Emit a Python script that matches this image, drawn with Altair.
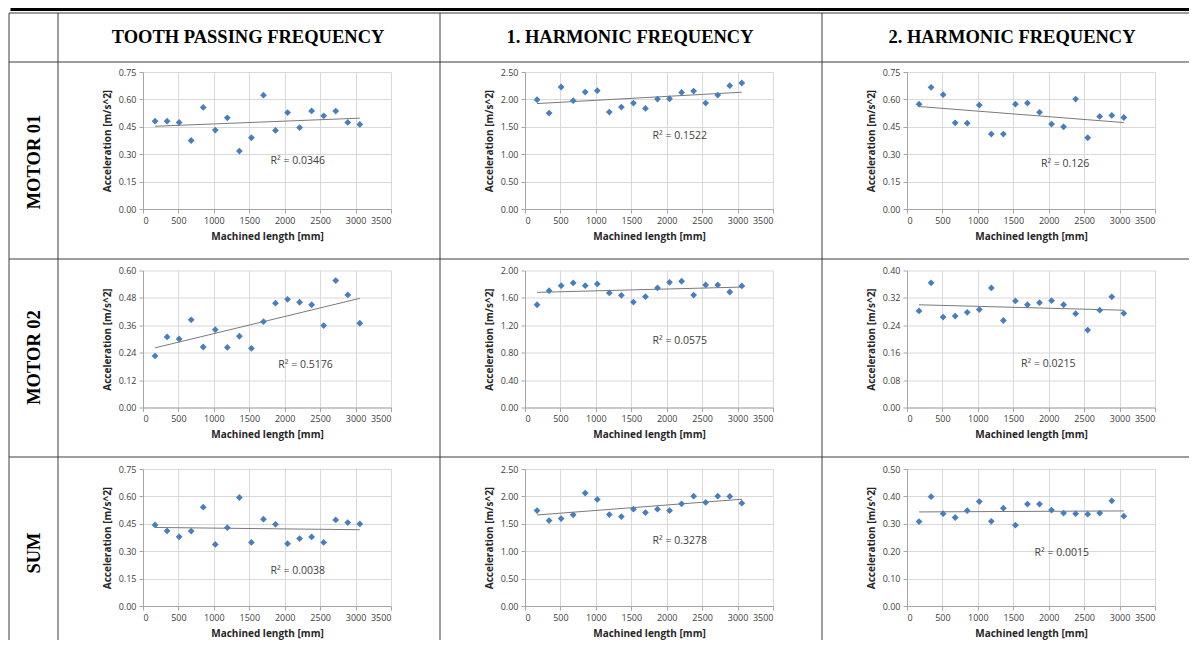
import altair as alt
import pandas as pd

# ---------------- data ----------------
X_MM = [170, 340, 510, 680, 850, 1020, 1190, 1360, 1530, 1700,
        1870, 2040, 2210, 2380, 2550, 2720, 2890, 3060]
X_TICKS = [0, 500, 1000, 1500, 2000, 2500, 3000, 3500]

COLUMN_TITLES = ["TOOTH PASSING FREQUENCY", "1. HARMONIC FREQUENCY", "2. HARMONIC FREQUENCY"]
ROW_TITLES = ["MOTOR 01", "MOTOR 02", "SUM"]

M01_TPF = [0.481, 0.481, 0.474, 0.375, 0.556, 0.432, 0.499, 0.317, 0.390, 0.623,
           0.430, 0.528, 0.446, 0.537, 0.510, 0.536, 0.474, 0.463]
M01_H1 = [1.994, 1.750, 2.226, 1.976, 2.134, 2.159, 1.768, 1.860, 1.933, 1.835,
          2.006, 2.012, 2.128, 2.152, 1.933, 2.079, 2.250, 2.299]
M01_H2 = [0.574, 0.666, 0.626, 0.472, 0.470, 0.569, 0.410, 0.410, 0.574, 0.580,
          0.529, 0.465, 0.450, 0.602, 0.390, 0.507, 0.512, 0.501]
M02_TPF = [0.226, 0.309, 0.300, 0.384, 0.265, 0.341, 0.263, 0.312, 0.259, 0.376,
           0.457, 0.474, 0.461, 0.450, 0.359, 0.556, 0.493, 0.369]
M02_H1 = [1.500, 1.706, 1.779, 1.819, 1.779, 1.804, 1.672, 1.637, 1.539, 1.618,
          1.745, 1.828, 1.843, 1.642, 1.789, 1.789, 1.686, 1.775]
M02_H2 = [0.282, 0.364, 0.264, 0.267, 0.278, 0.286, 0.349, 0.254, 0.311, 0.300,
          0.306, 0.312, 0.300, 0.274, 0.226, 0.284, 0.323, 0.275]
SUM_TPF = [0.444, 0.411, 0.379, 0.410, 0.541, 0.337, 0.429, 0.594, 0.348, 0.475,
           0.447, 0.341, 0.369, 0.378, 0.348, 0.471, 0.457, 0.449]
SUM_H1 = [1.742, 1.559, 1.595, 1.663, 2.060, 1.944, 1.669, 1.632, 1.767, 1.705,
          1.767, 1.742, 1.864, 2.005, 1.889, 2.005, 1.999, 1.877]
SUM_H2 = [0.308, 0.399, 0.337, 0.323, 0.348, 0.381, 0.309, 0.357, 0.295, 0.372,
          0.372, 0.350, 0.339, 0.337, 0.335, 0.339, 0.384, 0.328]

SERIES = [[M01_TPF, M01_H1, M01_H2],
          [M02_TPF, M02_H1, M02_H2],
          [SUM_TPF, SUM_H1, SUM_H2]]

Y_TICKS = [
    [[0.0, 0.15, 0.30, 0.45, 0.60, 0.75], [0.0, 0.5, 1.0, 1.5, 2.0, 2.5], [0.0, 0.15, 0.30, 0.45, 0.60, 0.75]],
    [[0.0, 0.12, 0.24, 0.36, 0.48, 0.60], [0.0, 0.4, 0.8, 1.2, 1.6, 2.0], [0.0, 0.08, 0.16, 0.24, 0.32, 0.40]],
    [[0.0, 0.15, 0.30, 0.45, 0.60, 0.75], [0.0, 0.5, 1.0, 1.5, 2.0, 2.5], [0.0, 0.1, 0.2, 0.3, 0.4, 0.5]],
]

R2_TEXT = [["R² = 0.0346", "R² = 0.1522", "R² = 0.126"],
           ["R² = 0.5176", "R² = 0.0575", "R² = 0.0215"],
           ["R² = 0.0038", "R² = 0.3278", "R² = 0.0015"]]
R2_X = [[1800, 1800, 1890], [1910, 1800, 1610], [1800, 1800, 1800]]
R2_Y = [[0.264, 1.34, 0.245], [0.184, 0.966, 0.127], [0.192, 1.186, 0.195]]

# ---------------- layout / style ----------------
PW, PH = 248, 137
COL_GAP, ROW_GAP = 134, 61.5
ROW_TOP = [-10, -11.5, -12]
ROW_BOTTOM = [187, 186.5, 171]
TABLE_TOP = -59
CELL_LEFT = -85
TABLE_LEFT = -134
RIGHT_END = 1046
HEADER_X = 105
HEADER_Y = -35
ROW_LABEL_X = -109.5
ROW_LABEL_Y = [90, 87, 84]

LINE = "#3c3c3c"
BLUE = "#4A7EBB"
SERIF = "Liberation Serif"
SANS = "Open Sans"

ONE = pd.DataFrame({"k": [0]})


def rule(x, y, x2=None, y2=None, width=1.0, color=LINE):
    enc = dict(x=alt.value(x), y=alt.value(y))
    if x2 is not None:
        enc["x2"] = alt.value(x2)
    if y2 is not None:
        enc["y2"] = alt.value(y2)
    return alt.Chart(ONE).mark_rule(strokeWidth=width, color=color).encode(**enc)


def decorations(r, c):
    deco = []
    vtop = TABLE_TOP if r == 0 else ROW_TOP[r]
    deco.append(rule(CELL_LEFT, vtop, y2=ROW_BOTTOM[r]))
    if c == 0:
        deco.append(rule(TABLE_LEFT, vtop, y2=ROW_BOTTOM[r]))
        deco.append(rule(TABLE_LEFT, ROW_TOP[r], x2=RIGHT_END))
        deco.append(
            alt.Chart(ONE).mark_text(angle=270, font=SERIF, fontWeight="bold", fontSize=18.5,
                                     color="black", align="center", baseline="middle",
                                     text=ROW_TITLES[r])
            .encode(x=alt.value(ROW_LABEL_X), y=alt.value(ROW_LABEL_Y[r]))
        )
        if r == 0:
            deco.append(rule(TABLE_LEFT, TABLE_TOP, x2=RIGHT_END))
            deco.append(rule(TABLE_LEFT + 1.5, TABLE_TOP - 3.5, x2=RIGHT_END, width=3, color="black"))
    if r == 0:
        deco.append(
            alt.Chart(ONE).mark_text(font=SERIF, fontWeight="bold", fontSize=18.5, color="black",
                                     align="center", baseline="middle", text=COLUMN_TITLES[c])
            .encode(x=alt.value(HEADER_X), y=alt.value(HEADER_Y))
        )
    return deco


def panel(r, c):
    df = pd.DataFrame({"x": X_MM, "y": SERIES[r][c]})
    ticks = Y_TICKS[r][c]
    xenc = alt.X("x:Q",
                 scale=alt.Scale(domain=[0, 3500], nice=False, zero=False),
                 axis=alt.Axis(values=X_TICKS, format="d", title="Machined length [mm]",
                               labelPadding=3, titlePadding=6))
    yenc = alt.Y("y:Q",
                 scale=alt.Scale(domain=[0, ticks[-1]], nice=False),
                 axis=alt.Axis(values=ticks, format=".2f", title="Acceleration [m/s^2]",
                               labelPadding=3, titlePadding=6))
    base = alt.Chart(df)
    trend = (base.transform_regression("x", "y")
             .mark_line(color="#7a7a7a", strokeWidth=1)
             .encode(x=xenc, y=yenc))
    pts = (base.mark_point(shape="diamond", filled=True, size=46, color=BLUE, opacity=1)
           .encode(x=xenc, y=yenc))
    lab_df = pd.DataFrame({"x": [R2_X[r][c]], "y": [R2_Y[r][c]], "t": [R2_TEXT[r][c]]})
    lab = (alt.Chart(lab_df)
           .mark_text(align="left", baseline="middle", font=SANS, fontSize=10.5, color="#404040")
           .encode(x=xenc, y=yenc, text="t:N"))
    layers = [trend, pts, lab] + decorations(r, c)
    return alt.layer(*layers).properties(width=PW, height=PH)


panels = [panel(r, c) for r in range(3) for c in range(3)]

chart = (
    alt.concat(*panels, columns=3, spacing={"row": ROW_GAP, "column": COL_GAP}, bounds="flush")
    .properties(padding=0, background="white")
    .configure_view(strokeWidth=0)
    .configure_axis(
        labelFont=SANS, labelFontSize=9, labelColor="#404040",
        titleFont=SANS, titleFontSize=10, titleFontWeight="bold", titleColor="#262626",
        gridColor="#d9d9d9", gridWidth=1,
        domainColor="#a6a6a6", tickColor="#a6a6a6", tickSize=4,
    )
)

chart.save("out.html", embed_options={"renderer": "svg", "actions": False})
